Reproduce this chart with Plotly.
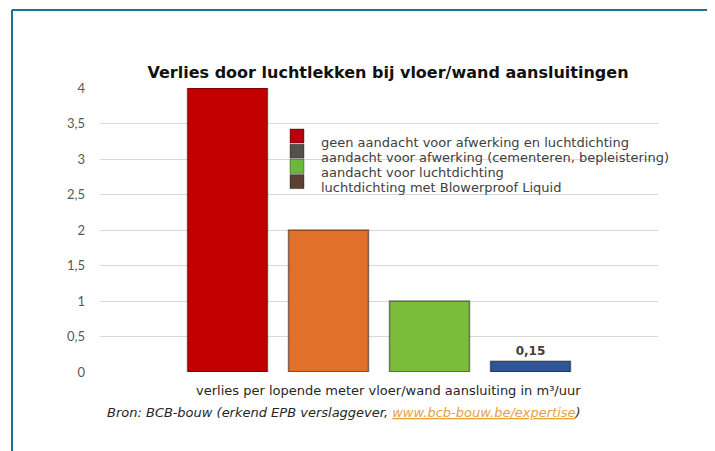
import plotly.graph_objects as go

category = ["verlies"]
series_names = [
    "geen aandacht voor afwerking en luchtdichting",
    "aandacht voor afwerking (cementeren, bepleistering)",
    "aandacht voor luchtdichting",
    "luchtdichting met Blowerproof Liquid",
]
values = [4, 2, 1, 0.15]
value_labels = ["", "", "", "0,15"]
bar_colors = ["#c30000", "#e0702a", "#7cbc3c", "#2f5597"]
legend_colors = ["#b8000e", "#55504a", "#6cb83a", "#5c4030"]
y_ticks = [0, 0.5, 1, 1.5, 2, 2.5, 3, 3.5, 4]
y_tick_text = ["0", "0,5", "1", "1,5", "2", "2,5", "3", "3,5", "4"]

fig = go.Figure()
for name, v, lab, c in zip(series_names, values, value_labels, bar_colors):
    fig.add_trace(go.Bar(
        x=category, y=[v], name=name, showlegend=False,
        marker=dict(color=c, line=dict(color="rgba(0,0,0,0.45)", width=1.5)),
        text=[lab], textposition="outside", cliponaxis=False,
        textfont=dict(family="DejaVu Sans", size=12, color="#404040"),
        texttemplate="<b>%{text}</b>", hoverinfo="skip",
    ))

fig.update_layout(
    width=715, height=451,
    margin=dict(l=92, r=65, t=80, b=87),
    paper_bgcolor="white", plot_bgcolor="white",
    barmode="group", bargap=0.276, bargroupgap=0.208,
    separators=",.",
    showlegend=False,
    font=dict(family="DejaVu Sans", color="#404040"),
    title=dict(text="<b>Verlies door luchtlekken bij vloer/wand aansluitingen</b>",
               x=0.5315, xanchor="center", y=0.858, yanchor="middle",
               font=dict(family="DejaVu Sans", size=16, color="#111111")),
    xaxis=dict(showticklabels=False, showgrid=False, zeroline=False, showline=False),
    yaxis=dict(range=[0, 4], tickvals=y_ticks, ticktext=y_tick_text,
               showgrid=True, gridcolor="#d9d9d9", gridwidth=1, zeroline=False,
               showline=False, ticks="", ticklabelstandoff=14,
               tickfont=dict(family="Lato", size=13, color="#595959")),
)

# legend drawn manually (row spacing of the original is tighter than plotly's legend)
px2x = lambda px: (px - 100) / 558
px2y = lambda py: (372 - py) / 284
for i, (name, c) in enumerate(zip(series_names, legend_colors)):
    top = 129 + 15.2 * i
    fig.add_shape(type="rect", xref="paper", yref="paper",
                  x0=px2x(290), x1=px2x(304), y0=px2y(top), y1=px2y(top + 14),
                  fillcolor=c, line=dict(color="rgba(0,0,0,0.35)", width=1))
    fig.add_annotation(text=name, xref="paper", yref="paper",
                       x=px2x(319), y=px2y(top + 13), xanchor="left", yanchor="middle",
                       showarrow=False, font=dict(family="DejaVu Sans", size=13, color="#404040"))

fig.add_annotation(text="verlies per lopende meter vloer/wand aansluiting in m³/uur",
                   xref="paper", yref="paper", x=px2x(388), y=px2y(390), xanchor="center", yanchor="middle",
                   showarrow=False, font=dict(family="DejaVu Sans", size=13, color="#262626"))
fig.add_annotation(text="<i>Bron: BCB-bouw (erkend EPB verslaggever, "
                        "<span style='color:#e8a040;text-decoration:underline'>www.bcb-bouw.be/expertise</span>)</i>",
                   xref="paper", yref="paper", x=px2x(344), y=px2y(412), xanchor="center", yanchor="middle",
                   showarrow=False, font=dict(family="DejaVu Sans", size=13, color="#262626"))

# hide most of the top gridline like the original
fig.add_shape(type="rect", xref="paper", yref="paper", layer="between",
              x0=px2x(128), x1=px2x(652), y0=px2y(90), y1=px2y(86),
              fillcolor="white", line=dict(width=0))

# frame
fig.add_shape(type="line", xref="paper", yref="paper", x0=px2x(12), x1=px2x(760), y0=px2y(10), y1=px2y(10),
              line=dict(color="#1f6e9c", width=2))
fig.add_shape(type="line", xref="paper", yref="paper", x0=px2x(12), x1=px2x(12), y0=px2y(10), y1=px2y(500),
              line=dict(color="#1f6e9c", width=2))

fig.write_html("out.html")
